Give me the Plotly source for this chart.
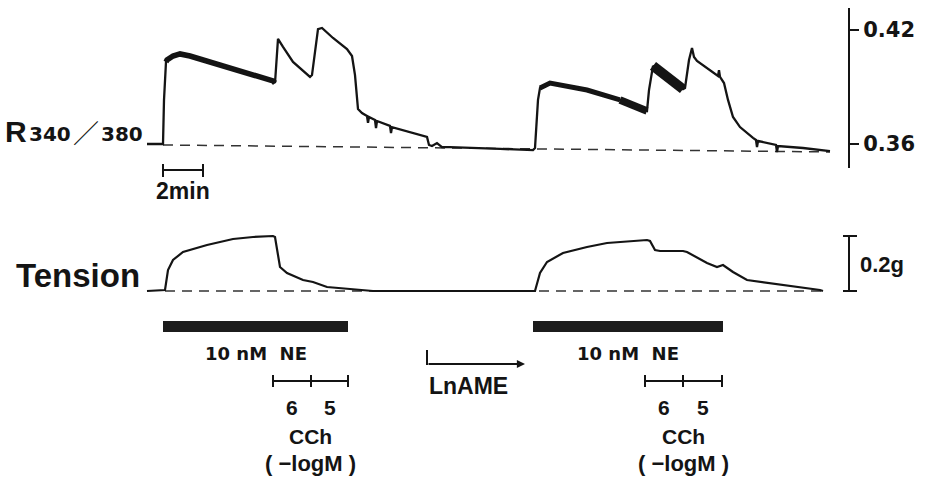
import plotly.graph_objects as go

W, H = 925, 477

# ---------------- data ----------------
# time in minutes, R340/380 fluorescence ratio
ratio_time = [0, 0.8, 0.85, 0.95, 1.0, 1.3, 1.65, 2.15, 3.0, 3.8,
              4.65, 5.5, 6.3, 6.4, 6.55, 6.8, 7.3, 8.15, 8.25, 8.55,
              8.75, 9.3, 10.0, 10.25, 10.4, 10.55, 10.75, 11.0, 11.05, 11.1,
              11.4, 11.45, 11.5, 12.15, 12.2, 12.25, 13.15, 14.0, 14.1, 14.25,
              14.5, 14.75, 15.15, 16.15, 17.65, 19.3,
              19.4, 19.55, 19.65, 20.15, 22.0, 23.65, 24.8, 25.0, 25.1, 25.3,
              25.65, 26.3, 26.8, 26.9, 27.1, 27.25, 27.35, 27.5, 28.15, 28.55,
              28.6, 28.65, 28.85, 29.05, 29.3, 29.65, 30.3, 30.45, 30.5, 30.55,
              31.45, 31.5, 31.55, 32.8, 34.15]
ratio_value = [0.3600, 0.3600, 0.3832, 0.4032, 0.4042, 0.4063, 0.4074, 0.4063, 0.4037, 0.4011,
               0.3984, 0.3958, 0.3932, 0.3921, 0.4153, 0.4111, 0.4032, 0.3953, 0.3963, 0.4205,
               0.4211, 0.4158, 0.4100, 0.4063, 0.3963, 0.3784, 0.3763, 0.3747, 0.3711, 0.3742,
               0.3726, 0.3684, 0.3721, 0.3695, 0.3658, 0.3689, 0.3663, 0.3637, 0.3595, 0.3589,
               0.3605, 0.3584, 0.3584, 0.3579, 0.3574, 0.3568,
               0.3579, 0.3832, 0.3895, 0.3921, 0.3884, 0.3832, 0.3784, 0.3774, 0.3884, 0.4011,
               0.3979, 0.3926, 0.3889, 0.3895, 0.4042, 0.4105, 0.4058, 0.4037, 0.3989, 0.3958,
               0.3989, 0.3953, 0.3921, 0.3832, 0.3742, 0.3689, 0.3632, 0.3621, 0.3584, 0.3616,
               0.3595, 0.3558, 0.3589, 0.3579, 0.3563]

# time in minutes, tension in g
tension_time = [0, 0.9, 1.05, 1.3, 1.8, 3.0, 4.3, 5.3, 6.3, 6.4,
                6.65, 7.0, 7.8, 8.3, 9.0, 10.0, 11.3, 19.4, 19.65, 20.0,
                20.8, 22.0, 23.0, 25.0, 25.15, 25.4, 25.65, 26.8, 27.0, 28.0,
                28.5, 28.8, 29.3, 30.0, 31.15, 32.8, 33.65, 33.8]
tension_value = [0, 0.0036, 0.0764, 0.1127, 0.1418, 0.1673, 0.1891, 0.1964, 0.2, 0.1964,
                 0.0873, 0.0655, 0.04, 0.0327, 0.0145, 0.0073, 0, 0, 0.0655, 0.1055,
                 0.1382, 0.16, 0.1745, 0.1855, 0.1818, 0.1491, 0.1455, 0.1455, 0.1418, 0.1018,
                 0.0873, 0.0945, 0.0691, 0.04, 0.0291, 0.0109, 0.0036, 0]

ratio_baseline_time = [0.8, 34.15]
ratio_baseline_value = [0.3595, 0.3558]
tension_baseline_time = [0.9, 33.8]
tension_baseline_value = [0.0, 0.0]

ratio_ticks = [0.36, 0.42]
ratio_tick_labels = ["0.36", "0.42"]

ne_start = [0.8, 19.3]
ne_end = [10.05, 28.8]
ne_label = "10 nM  NE"
cch_marks = [[6.3, 8.2, 10.05], [24.9, 26.8, 28.75]]
cch_doses = ["6", "5"]
lname_start, lname_end = 14.0, 18.9
time_bar = [0.8, 2.8]        # 2 min
tension_bar = [0.0, 0.2]     # 0.2 g

# noisy (thick) parts of the ratio trace: (t0, t1, width)
noise_windows = [(0.95, 6.4, 5.5), (19.65, 23.65, 5), (23.65, 25.0, 7.5), (25.3, 26.8, 10)]

# ---------------- helpers ----------------
def px(p):
    return p / W

def py(p):
    return 1 - p / H

INK = "#141414"
LIB = "Liberation Sans"
DJV = "DejaVu Sans"

def label(text, x, y, size, family=LIB, xref="paper", xanchor="center", bold=True):
    return dict(x=x, y=y, xref=xref, yref="paper", text=text, showarrow=False,
                xanchor=xanchor, yanchor="middle",
                font=dict(family=family, size=size, color=INK, weight="bold" if bold else "normal"))

fig = go.Figure()

# dashed baselines
fig.add_trace(go.Scatter(x=ratio_baseline_time, y=ratio_baseline_value, mode="lines",
                         line=dict(color="#333", width=1.5, dash="10px,7px"),
                         xaxis="x", yaxis="y", hoverinfo="skip"))
fig.add_trace(go.Scatter(x=tension_baseline_time, y=tension_baseline_value, mode="lines",
                         line=dict(color="#333", width=1.5, dash="10px,7px"),
                         xaxis="x", yaxis="y2", hoverinfo="skip"))

# ratio trace
fig.add_trace(go.Scatter(x=ratio_time, y=ratio_value, mode="lines",
                         line=dict(color=INK, width=2.3), xaxis="x", yaxis="y"))
for t0, t1, w in noise_windows:
    idx = [i for i, t in enumerate(ratio_time) if t0 <= t <= t1]
    fig.add_trace(go.Scatter(x=[ratio_time[i] for i in idx], y=[ratio_value[i] for i in idx],
                             mode="lines", line=dict(color=INK, width=w),
                             xaxis="x", yaxis="y", hoverinfo="skip"))

# tension trace
fig.add_trace(go.Scatter(x=tension_time, y=tension_value, mode="lines",
                         line=dict(color=INK, width=2.2), xaxis="x", yaxis="y2"))

shapes = []
annotations = []

# NE bars and labels
for s, e in zip(ne_start, ne_end):
    shapes.append(dict(type="rect", xref="x", yref="paper", x0=s, x1=e,
                       y0=py(332), y1=py(321), fillcolor="#1c1c1c", line=dict(width=0)))
    annotations.append(label(ne_label, (s + e) / 2, py(353), 18, family=DJV, xref="x"))

# CCh brackets and labels
for marks in cch_marks:
    shapes.append(dict(type="line", xref="x", yref="paper", x0=marks[0], x1=marks[-1],
                       y0=py(381), y1=py(381), line=dict(color=INK, width=2)))
    for m in marks:
        shapes.append(dict(type="line", xref="x", yref="paper", x0=m, x1=m,
                           y0=py(375), y1=py(387), line=dict(color=INK, width=2)))
    for k, d in enumerate(cch_doses):
        annotations.append(label(d, (marks[k] + marks[k + 1]) / 2, py(407), 21, xref="x"))
    mid = (marks[0] + marks[-1]) / 2
    annotations.append(label("CCh", mid, py(436), 21, xref="x"))
    annotations.append(label("( \u2212logM )", mid, py(463), 22, xref="x"))

# LnAME arrow
shapes.append(dict(type="line", xref="x", yref="paper", x0=lname_start, x1=lname_start,
                   y0=py(350), y1=py(365), line=dict(color=INK, width=2)))
annotations.append(dict(x=lname_end, y=py(364), xref="x", yref="paper", ax=lname_start, ay=0,
                        axref="x", ayref="pixel", text="", showarrow=True, arrowhead=2,
                        arrowsize=0.9, arrowwidth=1.8, arrowcolor=INK))
annotations.append(label("LnAME", lname_start, py(386), 23, xref="x", xanchor="left"))

# 2 min scale bar
shapes.append(dict(type="line", xref="x", yref="paper", x0=time_bar[0], x1=time_bar[1],
                   y0=py(170), y1=py(170), line=dict(color=INK, width=2)))
for t in time_bar:
    shapes.append(dict(type="line", xref="x", yref="paper", x0=t, x1=t,
                       y0=py(164), y1=py(177), line=dict(color=INK, width=2)))
annotations.append(label("2min", sum(time_bar) / 2, py(191), 23, xref="x"))

# 0.2 g tension scale bar
shapes.append(dict(type="line", xref="paper", yref="y2", x0=px(849), x1=px(849),
                   y0=tension_bar[0], y1=tension_bar[1], line=dict(color=INK, width=2)))
for v in tension_bar:
    shapes.append(dict(type="line", xref="paper", yref="y2", x0=px(843), x1=px(857),
                       y0=v, y1=v, line=dict(color=INK, width=2)))
annotations.append(label("0.2g", px(858), py(264), 22, xanchor="left"))

# panel labels
annotations.append(label("R", px(29), py(131), 30, xanchor="right"))
annotations.append(label("340", px(73), py(134), 20, family=DJV, xanchor="right"))
annotations.append(label("\uff0f", px(86), py(132), 26, family="Noto Sans CJK JP", bold=False))
annotations.append(label("380", px(99), py(134), 20, family=DJV, xanchor="left"))
annotations.append(label("Tension", px(142), py(275), 33, xanchor="right"))

fig.update_layout(
    width=W, height=H, template="none",
    margin=dict(l=0, r=0, t=0, b=0, pad=0),
    paper_bgcolor="white", plot_bgcolor="rgba(0,0,0,0)",
    showlegend=False,
    xaxis=dict(domain=[0, 1], range=[-7.35, 38.9], visible=False, fixedrange=True),
    yaxis=dict(domain=[py(168), py(8)], range=[0.347368, 0.431579], anchor="free",
               position=px(849), side="right", showline=True, linecolor=INK, linewidth=2,
               ticks="outside", ticklen=9, tickwidth=2, tickcolor=INK,
               tickvals=ratio_ticks, ticktext=ratio_tick_labels,
               tickfont=dict(family=DJV, size=21, color=INK, weight="bold"),
               showgrid=False, zeroline=False, automargin=False, fixedrange=True),
    yaxis2=dict(domain=[py(300), py(220)], range=[-0.0327273, 0.258182], anchor="x",
                visible=False, showgrid=False, zeroline=False, fixedrange=True),
    shapes=shapes, annotations=annotations,
)

fig.write_html("out.html", config={"displayModeBar": False},
               post_script="document.body.style.margin='0';")
